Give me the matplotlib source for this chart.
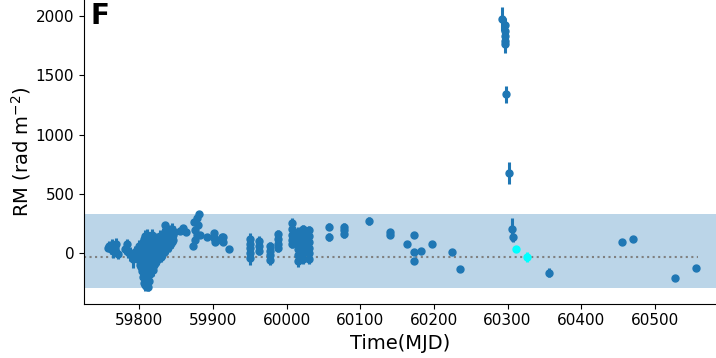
import matplotlib
matplotlib.use("Agg")
import matplotlib.pyplot as plt
from matplotlib import font_manager

# ---- data ----
mjd = [
    # early group
    59757, 59759, 59761, 59763, 59765, 59767, 59769, 59771,
    59780, 59783, 59785, 59788, 59791, 59794, 59796,
    # dense cluster
    59799, 59799, 59800, 59800, 59801, 59801, 59802, 59802, 59803, 59803,
    59804, 59804, 59805, 59805, 59805, 59806, 59806, 59806, 59807, 59807,
    59808, 59808, 59808, 59809, 59809, 59810, 59810, 59810, 59811, 59811,
    59812, 59812, 59812, 59813, 59813, 59814, 59814, 59815, 59815, 59816,
    59816, 59817, 59817, 59818, 59818, 59819, 59819, 59820, 59820, 59822,
    59822, 59824, 59824, 59826, 59826, 59828, 59828, 59830, 59830, 59832,
    59832, 59834, 59834, 59836, 59836, 59838, 59838, 59840, 59840, 59842,
    59842, 59844, 59844, 59846, 59846, 59835,
    59803, 59807, 59809, 59811, 59813, 59815, 59817, 59821, 59823, 59825,
    59827, 59829, 59831, 59833, 59837, 59839, 59841, 59843, 59845, 59847,
    # following groups
    59856, 59860, 59864,
    59873, 59874, 59876, 59876, 59878, 59878, 59880, 59881, 59882,
    59892, 59901, 59901, 59903, 59905, 59912, 59914, 59914, 59922,
    59951, 59951, 59951, 59951, 59951,
    59962, 59962, 59962,
    59978, 59978, 59978, 59978,
    59989, 59989, 59989, 59989,
    60008, 60008, 60008, 60008, 60008,
    60016, 60016, 60016, 60016, 60016, 60016,
    60022, 60022, 60022, 60022, 60022, 60022,
    60030, 60030, 60030, 60030, 60030, 60030,
    60058, 60058,
    60078, 60078, 60078,
    60112, 60140, 60140, 60163, 60173, 60173, 60173, 60182, 60197,
    60225, 60236,
    # burst
    60293, 60296, 60296, 60296, 60296, 60296, 60298, 60302, 60306, 60308,
    # late
    60356, 60456, 60470, 60527, 60556,
]
rm = [
    45, 60, 30, 70, 15, 45, 80, -10,
    30, 80, 10, -10, -50, 0, 20,
    20, -40, 60, -60, -20, -100, 40, -120, -80, 0,
    -150, 50, -200, 90, -30, -250, 120, -100, -180, 60,
    -270, 140, -50, -220, 30, -260, 100, -140, -200, 150,
    -290, 20, -100, -240, 80, -180, 120, -150, 40, -60,
    100, -120, 150, -140, 20, -110, 60, -100, 100, -80,
    60, -60, 120, -50, 80, -20, 140, -30, 100, 0,
    160, 10, 120, 30, 180, 40, 140, 60, 190, 70,
    160, 90, 200, 110, 150, 236,
    -40, -10, -120, -60, 0, -40, 30, 20, -10, 40,
    20, 60, 50, 80, 100, 110, 130, 140, 160, 180,
    186, 208, 180,
    59, 264, 194, 110, 293, 152, 236, 326, 152,
    138, 166, 124, 96, 110, 138, 96, 138, 34,
    120, 80, 40, 0, -40,
    100, 60, 20,
    60, 20, -20, -60,
    160, 120, 80, 40,
    256, 200, 150, 110, 80,
    180, 130, 80, 30, -20, -70,
    200, 150, 100, 50, 0, -50,
    190, 140, 90, 40, 0, -50,
    222, 135,
    222, 190, 160,
    270, 175, 155, 73, 152, 11, -67, 20, 73,
    6, -135,
    1972, 1920, 1870, 1830, 1790, 1760, 1339, 675, 200, 132,
    -166, 90, 116, -208, -127,
]
rm_err = [
    30, 40, 35, 50, 60, 40, 50, 40,
    40, 40, 50, 60, 80, 60, 40,
    50, 50, 50, 50, 50, 50, 50, 50, 50, 50,
    50, 50, 50, 50, 50, 50, 50, 50, 50, 50,
    50, 50, 50, 50, 50, 50, 50, 50, 50, 50,
    30, 50, 50, 50, 50, 50, 50, 50, 50, 50,
    50, 50, 50, 50, 50, 50, 50, 50, 50, 50,
    50, 50, 50, 50, 50, 50, 50, 50, 50, 50,
    50, 50, 50, 50, 50, 50, 50, 50, 50, 50,
    50, 50, 50, 50, 50, 15,
    50, 50, 50, 50, 50, 50, 50, 50, 50, 50,
    50, 50, 50, 50, 50, 50, 50, 50, 50, 50,
    15, 15, 15,
    15, 20, 20, 20, 20, 20, 20, 20, 20,
    20, 20, 20, 20, 20, 20, 20, 20, 15,
    50, 50, 50, 50, 60,
    40, 40, 40,
    30, 30, 30, 40,
    30, 30, 30, 30,
    40, 40, 40, 40, 40,
    40, 40, 40, 40, 40, 50,
    40, 40, 40, 40, 40, 40,
    40, 40, 40, 40, 40, 40,
    30, 30,
    30, 30, 30,
    30, 20, 20, 15, 20, 15, 25, 15, 15,
    15, 15,
    100, 60, 60, 60, 60, 70, 70, 95, 95, 40,
    40, 20, 15, 15, 15,
]
cyan_mjd = [60312, 60326]
cyan_rm = [36, -36]
cyan_err = [10, 44]

mean_rm = -31
band_low, band_high = -298, 329
line_start, line_end = 59725, 60558

fig = plt.figure(figsize=(7.16, 3.58), dpi=100)
ax = fig.add_axes([84 / 716, 1 - 303.5 / 358, (716 - 84) / 716, 303.5 / 358])

ax.axhspan(band_low, band_high, color='#1f77b4', alpha=0.3, lw=0, zorder=0)
ax.hlines(mean_rm, line_start, line_end, colors='gray', linestyles=':', lw=1.5, zorder=1)

ax.errorbar(mjd, rm, yerr=rm_err, fmt='o', color='#1f77b4', ms=5, elinewidth=2.2, capsize=0, zorder=3)
ax.errorbar(cyan_mjd, cyan_rm, yerr=cyan_err, fmt='o', color='cyan', ms=5, elinewidth=2.2, capsize=0, zorder=4)

ax.set_xlim(59725, 60583)
ax.set_ylim(-426, 2135)
ax.set_xticks([59800, 59900, 60000, 60100, 60200, 60300, 60400, 60500])
ax.set_yticks([0, 500, 1000, 1500, 2000])
ax.tick_params(labelsize=11)
ax.spines['top'].set_visible(False)
ax.spines['right'].set_visible(False)
ax.set_xlabel('Time(MJD)', fontsize=14)
ax.set_ylabel('RM (rad m$^{-2}$)', fontsize=14, labelpad=2)

names = {f.name for f in font_manager.fontManager.ttflist}
f_family = 'Liberation Sans Narrow' if 'Liberation Sans Narrow' in names else 'DejaVu Sans'
ax.text(0.01, 0.995, 'F', transform=ax.transAxes, ha='left', va='top',
        fontsize=20, fontweight='bold', family=f_family)

fig.savefig('out.png', dpi=100)
